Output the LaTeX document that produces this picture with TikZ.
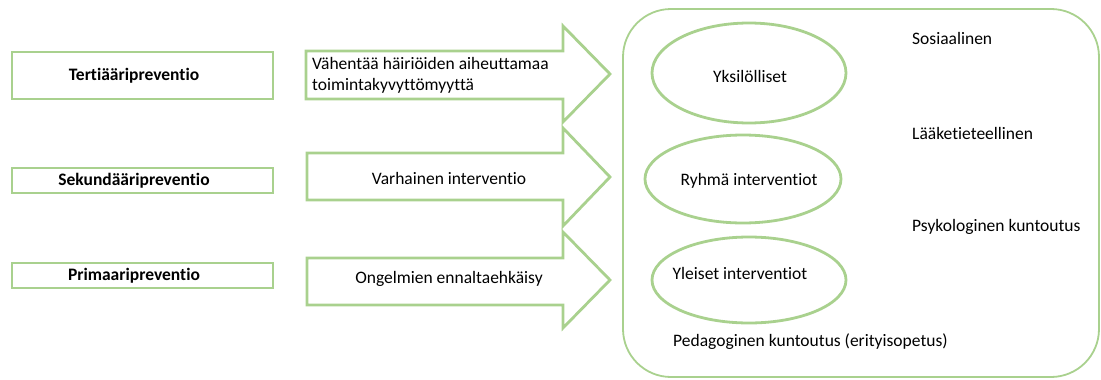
\documentclass[tikz,border=0pt]{standalone}
\usepackage{fontspec}
\setmainfont{Carlito}[RawFeature=-liga]
\usetikzlibrary{shapes.geometric}
\definecolor{lg}{HTML}{A9D18E}
\tikzset{
  lvlbox/.style={draw=lg, line width=2.8pt},
  bigarrow/.style={draw=lg, line width=2.8pt, line join=miter},
  oval/.style={draw=lg, line width=2.8pt, ellipse, inner sep=0pt},
  txt/.style={font=\fontsize{17.5}{20}\selectfont, inner sep=0pt},
  btxt/.style={font=\fontsize{17.5}{20}\selectfont\bfseries, inner sep=0pt},
}
\begin{document}
\begin{tikzpicture}[x=1pt,y=-1pt]
\useasboundingbox (0,0) rectangle (1101,380);
% left boxes
\draw[lvlbox] (12,52) rectangle (273,99);
\draw[lvlbox] (12,168) rectangle (273,193);
\draw[lvlbox] (12,263) rectangle (273,288);
\node[btxt] (t) at (134,76) {Tertiääripreventio};
\node[btxt] (s) at (134,181) {Sekundääripreventio};
\node[btxt] (p) at (134,276) {Primaaripreventio};
% arrows
\draw[bigarrow] (306,51) -- (563,51) -- (563,26) -- (610,74) -- (563,122) -- (563,99) -- (306,99) -- cycle;
\draw[bigarrow] (307,153) -- (563,153) -- (563,128) -- (610,177) -- (563,226) -- (563,200) -- (307,200) -- cycle;
\draw[bigarrow] (307,258) -- (563,258) -- (563,232) -- (610,280) -- (563,328) -- (563,305) -- (307,305) -- cycle;
\node[txt, anchor=west] (a1) at (312,63) {Vähentää häiriöiden aiheuttamaa};
\node[txt, anchor=west] (a1b) at (312,86) {toimintakyvyttömyyttä};
\node[txt] (a2) at (449,178) {Varhainen interventio};
\node[txt] (a3) at (449,279) {Ongelmien ennaltaehkäisy};
% right panel
\draw[draw=lg, line width=1.8pt, rounded corners=48pt] (623,9) rectangle (1099,377);
\node[oval, minimum width=194pt, minimum height=100pt] (e1) at (749,73) {};
\node[oval, minimum width=196pt, minimum height=88pt] (e2) at (743,179) {};
\node[oval, minimum width=194pt, minimum height=86pt] (e3) at (749,280) {};
\node[txt] (y1) at (750,76) {Yksilölliset};
\node[txt] (y2) at (749,181) {Ryhmä interventiot};
\node[txt] (y3) at (740,273) {Yleiset interventiot};
\node[txt, anchor=west] (r1) at (912,38) {Sosiaalinen};
\node[txt, anchor=west] (r2) at (912,133) {Lääketieteellinen};
\node[txt, anchor=west] (r3) at (912,227) {Psykologinen kuntoutus};
\node[txt, anchor=west] (r4) at (673,342) {Pedagoginen kuntoutus (erityisopetus)};
\end{tikzpicture}
\end{document}
